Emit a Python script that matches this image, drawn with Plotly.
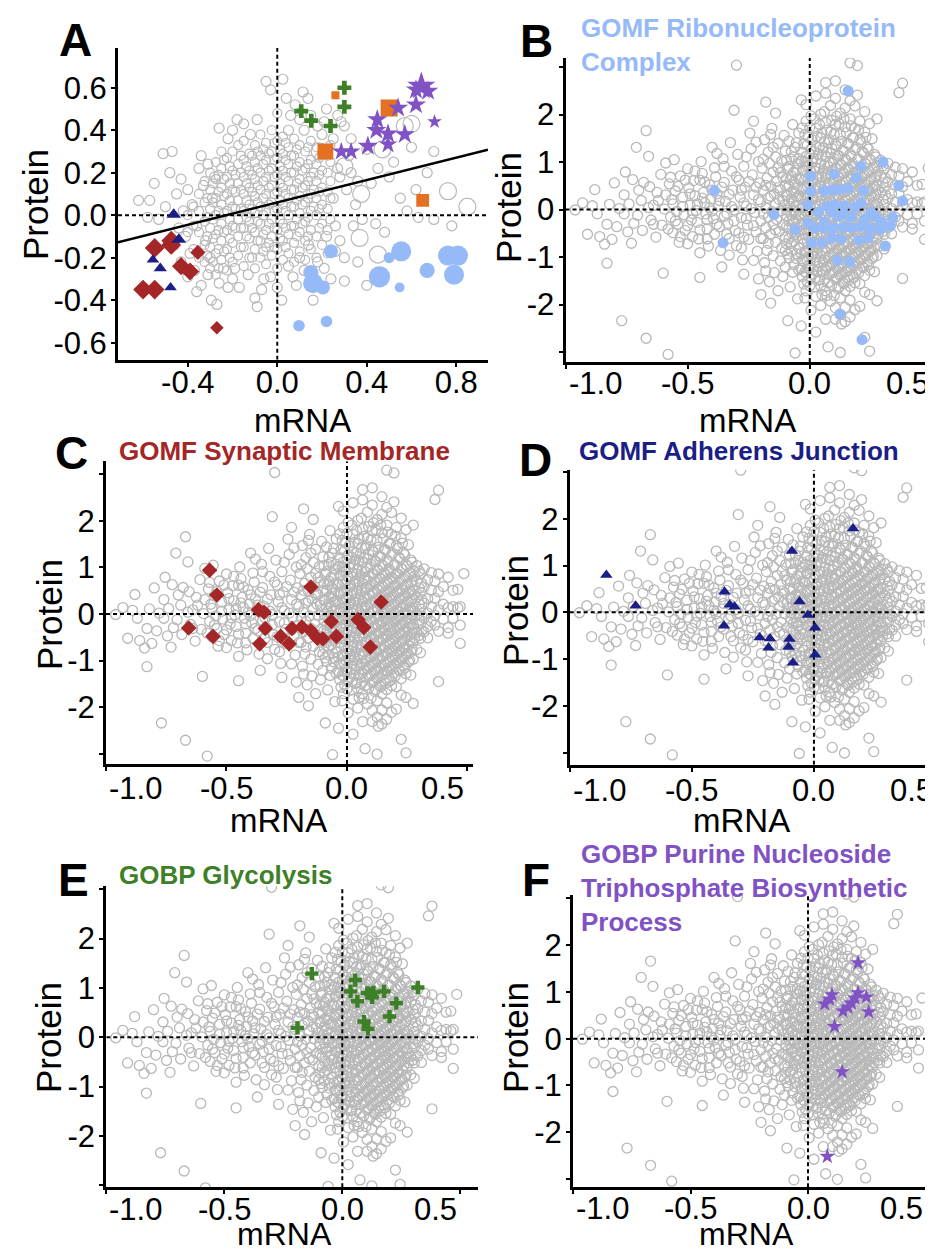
import plotly.graph_objects as go

W, H = 933, 1251
FONT = "Liberation Sans, Arial, sans-serif"

# ---------------------------------------------------------------- data
# Panel A background (mRNA, protein) - sparse genes
a_gray_pts = [
    (-0.62, 0.07), (-0.57, 0.07), (-0.55, 0.15), (-0.51, 0.29), (-0.47, 0.30), (-0.53, -0.02), (-0.50, 0.04),
    (-0.58, -0.01), (-0.45, 0.10), (-0.48, 0.20), (-0.43, 0.17), (-0.44, -0.06), (-0.41, -0.10), (-0.42, 0.02),
    (-0.40, 0.12), (-0.38, 0.05), (-0.39, -0.18), (-0.37, -0.26), (-0.40, -0.29), (-0.36, -0.05), (-0.35, 0.22),
    (-0.34, 0.28), (-0.31, 0.24), (-0.33, 0.14), (-0.32, -0.12), (-0.30, -0.20), (-0.34, -0.33), (-0.295, -0.40),
    (-0.27, -0.42), (-0.29, 0.08), (-0.28, 0.18), (-0.26, 0.41), (-0.22, -0.34), (-0.24, -0.25), (-0.20, -0.30),
    (-0.18, 0.45), (-0.15, 0.43), (-0.10, -0.39), (-0.09, -0.43), (-0.13, -0.28), (-0.06, -0.30), (-0.03, -0.29),
    (-0.05, 0.63), (-0.03, 0.59), (0.025, 0.64), (0.115, 0.58), (0.137, 0.55), (0.27, 0.47), (0.285, 0.44),
    (0.30, 0.42), (0.20, 0.38), (0.44, -0.04), (0.63, -0.01), (0.40, -0.33), (0.30, -0.31), (0.22, -0.10),
    (0.18, -0.22), (0.085, -0.33), (0.60, 0.32), (0.50, 0.18), (0.55, 0.08), (0.42, 0.15), (0.35, 0.05),
    (0.28, 0.18), (0.32, 0.28), (0.25, 0.08), (0.26, -0.05), (0.30, -0.20), (0.36, -0.22), (0.24, -0.30),
    (0.05, -0.24), (0.10, -0.20), (0.14, -0.14), (0.12, -0.26), (0.02, -0.40), (0.15, 0.47), (0.22, 0.50),
    (0.10, 0.45), (0.05, 0.40), (0.70, 0.30), (0.67, 0.20), (0.78, -0.05), (0.48, -0.08), (0.52, 0.25),
    (0.62, 0.12), (0.25, 0.36), (0.18, 0.42), (0.08, 0.52), (-0.12, 0.38), (-0.22, 0.36), (0.33, 0.36),
    (0.38, -0.02), (0.16, -0.40), (-0.17, -0.34), (-0.26, -0.32), (0.04, 0.55), (0.21, -0.25), (0.27, 0.22),
    (0.31, 0.12), (0.28, -0.12), (0.36, 0.16), (0.40, 0.31), (0.45, 0.22), (0.58, 0.02), (0.70, -0.02),
    (-0.46, -0.14), (-0.43, -0.22), (-0.36, -0.36), (-0.31, -0.28), (-0.19, -0.25), (-0.07, -0.35),
    (0.00, -0.34), (0.07, -0.29), (0.17, -0.31), (0.26, -0.17), (0.33, 0.20), (0.21, 0.44), (-0.09, 0.45),
    (0.06, 0.47), (-0.20, 0.40), (0.12, 0.40), (0.34, -0.05),
]
# Panel A background - large-effect genes (drawn as big circles)
a_gray_big_pts = [
    (0.375, 0.10), (0.45, -0.185), (0.368, -0.107), (0.57, 0.42), (0.60, 0.43), (0.763, 0.113),
    (0.85, 0.04), (0.47, 0.31), (0.30, 0.23), (0.19, 0.30),
]
# Panel A background - dense core, grouped by mRNA value
a_gray_core = {
    -0.40: [-0.08, 0.00],
    -0.375: [-0.16, -0.05, 0.04],
    -0.35: [-0.20, -0.08, 0.02, 0.10],
    -0.325: [-0.22, -0.14, -0.03, 0.06, 0.16],
    -0.3125: [-0.19, -0.10, -0.01, 0.08],
    -0.30: [-0.25, -0.15, -0.06, 0.03, 0.12, 0.20],
    -0.2875: [-0.22, -0.11, -0.02, 0.06, 0.15],
    -0.275: [-0.28, -0.18, -0.09, 0.00, 0.08, 0.17, 0.25],
    -0.2625: [-0.25, -0.16, -0.07, 0.02, 0.11, 0.19],
    -0.25: [-0.21, -0.12, -0.04, 0.05, 0.13, 0.22, 0.30],
    -0.2375: [-0.17, -0.08, 0.01, 0.09, 0.17, 0.26],
    -0.225: [-0.26, -0.16, -0.07, 0.02, 0.10, 0.18, 0.27],
    -0.2125: [-0.20, -0.11, -0.02, 0.07, 0.15, 0.23],
    -0.20: [-0.22, -0.13, -0.05, 0.04, 0.12, 0.21, 0.30],
    -0.1875: [-0.06, 0.03, 0.11, 0.19],
    -0.175: [-0.19, -0.10, -0.02, 0.07, 0.15, 0.24, 0.33],
    -0.1625: [-0.15, -0.06, 0.03, 0.12, 0.20, 0.28],
    -0.15: [-0.24, -0.15, -0.06, 0.02, 0.10, 0.18, 0.26, 0.35],
    -0.1375: [-0.10, -0.01, 0.07, 0.15, 0.23],
    -0.125: [-0.20, -0.11, -0.03, 0.05, 0.13, 0.21, 0.29],
    -0.1125: [-0.20, -0.06, 0.03, 0.11, 0.19, 0.28],
    -0.10: [-0.25, -0.16, -0.08, 0.01, 0.09, 0.17, 0.25, 0.33],
    -0.0875: [-0.12, -0.03, 0.06, 0.14, 0.22, 0.30],
    -0.075: [-0.20, -0.12, -0.04, 0.04, 0.12, 0.20, 0.28, 0.38],
    -0.0625: [-0.17, -0.09, 0.00, 0.08, 0.16, 0.24, 0.31],
    -0.05: [-0.23, -0.15, -0.07, 0.02, 0.10, 0.18, 0.26, 0.34],
    -0.0375: [-0.13, -0.04, 0.05, 0.13, 0.21, 0.29],
    -0.025: [-0.19, -0.10, -0.02, 0.06, 0.14, 0.22, 0.30, 0.40],
    -0.0125: [-0.15, -0.06, 0.02, 0.10, 0.18, 0.26, 0.34],
    0.0: [-0.25, -0.16, -0.07, 0.03, 0.11, 0.19, 0.27, 0.35, 0.48],
    0.0125: [-0.11, -0.02, 0.07, 0.15, 0.23, 0.31],
    0.025: [-0.21, -0.12, -0.04, 0.05, 0.13, 0.21, 0.29, 0.37],
    0.0375: [-0.15, -0.06, 0.02, 0.10, 0.18, 0.26, 0.34],
    0.05: [-0.18, -0.09, 0.00, 0.08, 0.16, 0.24, 0.32],
    0.0625: [-0.05, 0.04, 0.12, 0.20, 0.28],
    0.075: [-0.22, -0.13, -0.05, 0.04, 0.12, 0.20, 0.28, 0.36],
    0.0875: [-0.10, -0.02, 0.07, 0.15, 0.23, 0.31],
    0.10: [-0.17, -0.08, 0.01, 0.09, 0.17, 0.25, 0.33],
    0.1125: [-0.04, 0.05, 0.13, 0.21],
    0.125: [-0.21, -0.12, -0.03, 0.06, 0.14, 0.22, 0.30],
    0.1375: [-0.10, -0.01, 0.08, 0.16, 0.24, 0.32],
    0.15: [-0.16, -0.07, 0.02, 0.10, 0.18, 0.26, 0.35],
    0.1625: [0.04, 0.12, 0.20],
    0.175: [-0.20, -0.10, 0.00, 0.08, 0.16, 0.24, 0.32],
    0.1875: [-0.06, 0.03, 0.11, 0.19, 0.27],
    0.20: [-0.14, -0.04, 0.05, 0.13, 0.21, 0.29],
    0.225: [-0.18, -0.07, 0.03, 0.11, 0.20, 0.28],
    0.2375: [-0.02, 0.08, 0.16, 0.25, 0.33],
}

# Panel A highlighted categories (mRNA, protein, weight)
a_syn_x = [-0.60, -0.548, -0.548, -0.474, -0.474, -0.43, -0.39, -0.355, -0.27]
a_syn_y = [-0.35, -0.35, -0.154, -0.12, -0.14, -0.24, -0.265, -0.175, -0.53]
a_syn_w = [2.2, 2.2, 2.2, 2.2, 2.2, 2.0, 2.0, 1.6, 1.4]
a_adh_x = [-0.463, -0.44, -0.556, -0.523, -0.477]
a_adh_y = [0.003, -0.115, -0.21, -0.25, -0.34]
a_adh_w = [1.8, 1.8, 1.5, 1.6, 1.5]
a_orange_x = [0.26, 0.50, 0.215, 0.65]
a_orange_y = [0.565, 0.505, 0.30, 0.07]
a_orange_w = [1.0, 2.5, 2.3, 1.8]
a_gly_x = [0.30, 0.30, 0.107, 0.152, 0.238]
a_gly_y = [0.60, 0.51, 0.49, 0.445, 0.42]
a_gly_w = [1.6, 1.6, 1.6, 1.6, 1.6]
a_pur_x = [0.644, 0.62, 0.674, 0.54, 0.62, 0.447, 0.443, 0.495, 0.57, 0.495, 0.405, 0.33, 0.286, 0.703]
a_pur_y = [0.607, 0.59, 0.584, 0.505, 0.52, 0.45, 0.40, 0.383, 0.38, 0.333, 0.325, 0.30, 0.30, 0.44]
a_pur_w = [3.2, 2.2, 2.2, 2.2, 2.2, 2.2, 2.2, 2.2, 2.2, 2.0, 2.2, 2.0, 2.0, 1.5]
a_ribo_x = [0.24, 0.16, 0.15, 0.204, 0.457, 0.50, 0.554, 0.547, 0.67, 0.763, 0.808, 0.79, 0.097, 0.22]
a_ribo_y = [-0.17, -0.32, -0.27, -0.34, -0.29, -0.20, -0.17, -0.34, -0.26, -0.19, -0.19, -0.28, -0.52, -0.50]
a_ribo_w = [2.0, 3.0, 2.2, 2.0, 3.2, 1.5, 3.0, 1.3, 2.2, 3.0, 3.0, 3.0, 1.6, 1.6]
reg_slope = 0.263
reg_intercept = 0.06

# Panels B-F shared background (mRNA, protein) - sparse genes
bf_gray_pts = [
    (-0.96, -0.01), (-0.93, 0.14), (-0.91, -0.52), (-0.89, 0.08), (-0.87, -0.09), (-0.86, -0.57), (-0.84, -0.73),
    (-0.83, -1.13), (-0.82, 0.11), (-0.81, -0.63), (-0.80, 0.56), (-0.79, -0.36), (-0.78, 0.02), (-0.77, -2.34),
    (-0.76, 0.31), (-0.755, 0.79), (-0.745, -0.47), (-0.73, -0.71), (-0.725, 0.63), (-0.71, 1.31), (-0.705, -0.12),
    (-0.70, 0.41), (-0.69, 0.19), (-0.685, -0.44), (-0.67, 1.66), (-0.67, -2.71), (-0.66, 1.12), (-0.655, 0.48),
    (-0.65, -0.22), (-0.64, 0.09), (-0.63, -0.58), (-0.625, 0.36), (-0.61, 0.74), (-0.605, -0.33), (-0.60, -1.34),
    (-0.595, 0.01), (-0.59, 0.98), (-0.58, -3.05), (-0.575, 0.54), (-0.57, -0.16), (-0.565, 0.21), (-0.56, -0.49),
    (-0.555, 1.05), (-0.55, 0.39), (-0.545, -0.04), (-0.54, -0.31), (-0.535, -0.69), (-0.53, 0.71), (-0.52, 0.26),
    (-0.515, -0.11), (-0.51, -0.44), (-0.50, 0.86), (-0.495, 0.46), (-0.49, 0.09), (-0.485, -0.22), (-0.48, -0.57),
    (-0.475, 0.61), (-0.47, 0.29), (-0.465, -0.02), (-0.46, -0.27), (-0.455, -0.62), (-0.45, -0.91), (-0.45, -1.43),
    (-0.445, 1.01), (-0.44, 0.76), (-0.435, 0.36), (-0.43, 0.14), (-0.425, -0.09), (-0.42, -0.41), (-0.415, -0.77),
    (-0.41, 0.52), (-0.405, 0.22), (-0.40, 1.31), (-0.40, -0.03), (-0.395, -0.19), (-0.39, -0.52), (-0.385, 0.69),
    (-0.38, 0.33), (-0.375, 0.07), (-0.37, -0.36), (-0.365, -0.86), (-0.36, -1.21), (-0.355, 1.07), (-0.35, 0.57),
    (-0.345, 0.17), (-0.34, -0.08), (-0.335, -0.29), (-0.33, -0.61), (-0.325, 1.41), (-0.32, 0.81), (-0.315, 0.41),
    (-0.31, 2.09), (-0.31, -0.01), (-0.305, -0.44), (-0.30, 3.04), (-0.30, -0.76), (-0.295, 1.16), (-0.29, 0.62),
    (-0.285, 0.26), (-0.28, -0.17), (-0.275, -1.06), (-0.27, -1.36), (-0.27, 0.91), (-0.265, 0.47), (-0.26, 0.07),
    (-0.255, -0.33), (-0.25, -0.63), (-0.245, 1.61), (-0.24, 1.28), (-0.235, 0.73), (-0.23, 1.86), (-0.23, 0.31),
    (-0.225, -0.06), (-0.22, -0.47), (-0.215, -0.88), (-0.21, -1.46), (-0.21, 1.01), (-0.205, 0.56), (-0.20, 0.16),
    (-0.20, -0.24), (-0.20, -1.79),
    (-0.195, 0.87), (-0.19, 0.41), (-0.19, -0.61), (-0.185, 1.47), (-0.185, -1.12), (-0.18, 2.26), (-0.18, 0.03),
    (-0.18, -0.38), (-0.175, 0.66), (-0.175, -0.86), (-0.17, 1.21), (-0.17, 0.24), (-0.17, -0.16), (-0.165, -1.52),
    (-0.165, 0.97), (-0.16, 0.49), (-0.16, -0.52), (-0.16, -1.97), (-0.155, -0.04), (-0.155, 1.71), (-0.15, 0.79),
    (-0.15, -0.31), (-0.15, -0.97), (-0.145, 0.33), (-0.145, -1.33), (-0.14, 2.03), (-0.14, 1.11), (-0.14, 0.12),
    (-0.14, -0.69), (-0.135, 0.59), (-0.135, -0.21), (-0.13, -1.71), (-0.13, 1.39), (-0.13, 0.88), (-0.125, -0.46),
    (-0.125, 0.21), (-0.12, -1.08), (-0.12, 0.42), (-0.12, -0.03), (-0.115, 1.02), (-0.115, -0.81), (-0.11, 0.68),
    (-0.11, -0.33), (-0.11, -1.41), (-0.105, 1.56), (-0.105, 0.09), (-0.10, 1.23), (-0.10, 0.51), (-0.10, -0.58),
    (-0.10, -1.21), (-0.095, -0.13), (-0.095, 0.29), (-0.09, -2.34), (-0.09, 0.86), (-0.09, -0.94), (-0.085, 1.44),
    (-0.085, -0.39), (-0.08, 0.63), (-0.08, 0.06), (-0.08, -1.63), (-0.075, 1.06), (-0.075, -0.71), (-0.075, 0.37),
    (-0.07, -0.22), (-0.07, 1.79), (-0.07, -1.32), (-0.065, 0.79), (-0.065, 0.17), (-0.06, -3.02), (-0.06, -0.52),
    (-0.06, 1.31), (-0.06, 0.53), (-0.055, -0.06), (-0.055, -1.03), (-0.05, 0.96), (-0.05, 0.27), (-0.05, -0.36),
    (-0.05, -1.88), (-0.045, 1.61), (-0.045, 0.66), (-0.045, -0.81),
    (-0.59, 0.31), (-0.58, -0.41), (-0.57, 0.68), (-0.56, 0.12), (-0.55, -0.24), (-0.54, 0.49), (-0.53, -0.57),
    (-0.52, 0.06), (-0.51, 0.62), (-0.50, -0.34), (-0.49, 0.33), (-0.48, -0.08), (-0.47, 0.81), (-0.46, 0.12),
    (-0.45, -0.43), (-0.44, 0.24), (-0.43, 0.58), (-0.42, -0.21), (-0.41, 0.04), (-0.40, 0.41), (-0.39, 0.88),
    (-0.38, -0.31), (-0.37, 0.19), (-0.36, 0.47), (-0.35, -0.14), (-0.34, -0.52), (-0.33, 0.32), (-0.32, 0.06),
    (-0.31, -0.24), (-0.30, 0.69), (-0.29, -0.49), (-0.28, 0.41), (-0.27, 0.14), (-0.26, -0.19), (-0.25, 0.59),
    (-0.24, 0.02), (-0.23, -0.34), (-0.22, 0.47), (-0.21, 0.21), (-0.20, -0.61), (-0.19, 1.06), (-0.19, -0.09),
    (-0.18, 0.51), (-0.17, -0.71), (-0.16, 0.28), (-0.15, 1.31), (-0.14, -0.43), (-0.13, 0.46), (-0.12, 0.78),
    (-0.11, 0.19), (-0.10, -0.86), (-0.62, 0.19), (-0.64, -0.31), (-0.66, 0.04), (-0.68, 0.57), (-0.72, -0.29),
    (-0.74, 0.12), (-0.76, -0.09), (-0.83, -0.31), (-0.88, 0.42), (-0.35, 0.91), (-0.28, -0.81), (-0.23, -1.07),
    (-0.26, 1.11), (-0.33, -0.96), (-0.42, -0.62), (-0.50, -0.72), (-0.38, 1.18), (-0.45, 0.62), (-0.22, 1.42),
    (-0.18, -1.29), (-0.16, 1.58), (-0.27, -0.58),
]
# Panels B-F shared background - dense core, grouped by mRNA value
bf_gray_core = {
    -0.095: [1.04, 0.66, 0.31, -0.01, -0.36, -0.72],
    -0.085: [0.91, 0.49, 0.14, -0.24, -0.61, -1.02],
    -0.075: [1.22, 0.71, 0.22, -0.12, -0.49, -0.88],
    -0.065: [1.11, 0.58, 0.36, -0.04, -0.29, -0.67, -1.16],
    -0.055: [1.41, 0.83, 0.44, 0.09, -0.21, -0.58, -0.93],
    -0.045: [1.07, 0.29, -0.12, -0.46, -1.27],
    -0.035: [2.31, 1.02, 0.63, 0.22, -0.12, -0.44, -0.93, -1.24, -2.45],
    -0.03: [1.72, 1.21, 0.83, 0.42, 0.04, -0.28, -0.61, -1.07, -1.41],
    -0.025: [1.38, 0.84, 0.47, 0.05, -0.29, -0.72, -1.09, -1.57],
    -0.02: [1.58, 1.01, 0.64, 0.26, -0.12, -0.51, -0.89, -1.31, -1.86],
    -0.015: [2.21, 1.86, 1.12, 0.71, 0.31, -0.04, -0.41, -0.86, -1.33, -1.71],
    -0.01: [1.36, 0.91, 0.49, 0.13, -0.22, -0.67, -1.07, -1.52],
    -0.005: [1.52, 0.93, 0.54, 0.16, -0.21, -0.58, -0.99, -1.18],
    0.0: [1.73, 1.16, 0.72, 0.33, -0.04, -0.43, -0.84, -1.24, -1.61],
    0.005: [1.97, 1.27, 0.79, 0.39, 0.01, -0.34, -0.76, -1.42, -2.12],
    0.01: [1.47, 0.99, 0.58, 0.21, -0.16, -0.57, -0.95, -1.36],
    0.015: [1.08, 0.62, 0.24, -0.13, -0.49, -0.91, -1.27],
    0.02: [1.91, 1.22, 0.81, 0.41, 0.03, -0.37, -0.79, -1.19, -1.63],
    0.025: [2.39, 1.71, 1.33, 0.88, 0.47, 0.09, -0.27, -0.66, -1.06, -1.83, -2.58],
    0.03: [1.54, 1.06, 0.65, 0.27, -0.11, -0.51, -0.92, -1.31],
    0.035: [1.17, 0.71, 0.32, -0.06, -0.41, -0.81, -1.19, -1.49],
    0.04: [1.79, 1.31, 0.86, 0.44, 0.06, -0.31, -0.71, -1.11, -1.47],
    0.045: [2.01, 1.51, 0.97, 0.56, 0.18, -0.19, -0.56, -0.97, -1.61, -2.02],
    0.05: [1.61, 1.14, 0.69, 0.31, -0.08, -0.47, -0.86, -1.29, -1.79],
    0.055: [1.29, 0.81, 0.42, 0.03, -0.33, -0.71, -1.11, -1.37],
    0.06: [2.06, 1.43, 0.93, 0.51, 0.12, -0.27, -0.66, -1.06, -1.49],
    0.065: [2.67, 2.45, 1.83, 1.11, 0.66, 0.27, -0.11, -0.47, -0.87, -1.26, -1.71, -2.31],
    0.07: [1.67, 1.21, 0.76, 0.36, -0.03, -0.42, -0.81, -1.21, -1.81],
    0.075: [1.41, 0.91, 0.52, 0.13, -0.24, -0.62, -1.01, -1.54, -2.89],
    0.08: [1.47, 0.99, 0.57, 0.18, -0.19, -0.59, -0.98, -1.37],
    0.085: [2.19, 1.63, 1.19, 0.73, 0.34, -0.03, -0.39, -0.78, -1.17, -1.93],
    0.09: [1.88, 1.29, 0.81, 0.41, 0.02, -0.35, -0.74, -1.13, -1.59],
    0.095: [1.02, 0.59, 0.21, -0.16, -0.53, -0.93, -1.32],
    0.10: [1.59, 1.07, 0.63, 0.24, -0.14, -0.53, -0.91, -1.29, -1.81],
    0.105: [2.71, 2.34, 1.79, 1.37, 0.86, 0.44, 0.06, -0.31, -0.69, -1.08, -1.47, -2.07, -2.31],
    0.11: [1.96, 1.33, 0.87, 0.46, 0.07, -0.29, -0.67, -1.06, -1.44],
    0.115: [1.13, 0.68, 0.29, -0.09, -0.46, -0.84, -1.23, -1.66],
    0.12: [1.81, 1.13, 0.69, 0.29, -0.07, -0.44, -0.82, -1.21, -1.62],
    0.125: [2.03, 1.58, 0.96, 0.53, 0.14, -0.23, -0.61, -0.99, -1.39, -1.86, -2.21, -3.01],
    0.13: [1.43, 0.93, 0.52, 0.12, -0.24, -0.59, -0.97, -1.37, -2.41],
    0.135: [1.24, 0.77, 0.37, -0.02, -0.38, -0.76, -1.16, -1.53],
    0.14: [1.91, 1.23, 0.76, 0.36, -0.04, -0.38, -0.74, -1.14, -1.56],
    0.145: [2.52, 2.14, 1.74, 1.06, 0.61, 0.22, -0.15, -0.53, -0.91, -1.31, -1.71, -2.06, -2.36],
    0.15: [1.62, 1.03, 0.58, 0.19, -0.17, -0.53, -0.91, -1.29],
    0.155: [1.39, 0.88, 0.46, 0.07, -0.29, -0.68, -1.07, -1.43],
    0.16: [1.38, 0.83, 0.42, 0.03, -0.34, -0.71, -1.07, -1.49],
    0.165: [3.09, 2.29, 1.91, 1.17, 0.71, 0.31, -0.07, -0.44, -0.83, -1.21, -1.62, -1.91, -2.26],
    0.17: [1.76, 1.12, 0.66, 0.27, -0.11, -0.47, -0.84, -1.23],
    0.175: [1.51, 0.97, 0.54, 0.16, -0.21, -0.59, -0.97, -1.37],
    0.18: [1.52, 0.91, 0.49, 0.11, -0.27, -0.63, -1.01, -1.43],
    0.185: [2.18, 1.71, 1.26, 0.79, 0.39, 0.01, -0.36, -0.74, -1.12, -1.54, -2.11],
    0.19: [1.31, 0.76, 0.36, -0.03, -0.41, -0.79, -1.17],
    0.195: [3.03, 2.41, 1.05, 0.61, 0.23, -0.14, -0.51, -0.89, -1.27],
    0.20: [1.68, 1.06, 0.61, 0.21, -0.17, -0.54, -0.92, -1.33],
    0.205: [1.86, 1.47, 0.86, 0.47, 0.08, -0.28, -0.66, -1.04, -1.56, -2.04],
    0.21: [1.41, 0.87, 0.46, 0.07, -0.31, -0.69, -1.06],
    0.215: [1.22, 0.69, 0.31, -0.06, -0.43, -0.81, -1.19],
    0.22: [1.18, 0.73, 0.33, -0.06, -0.43, -0.81, -1.22],
    0.225: [2.06, 1.63, 0.98, 0.54, 0.16, -0.21, -0.58, -0.96, -1.39, -1.74, -2.69],
    0.23: [1.52, 0.96, 0.52, 0.14, -0.23, -0.59, -0.97],
    0.235: [1.31, 0.77, 0.38, 0.01, -0.36, -0.73, -1.11],
    0.24: [1.27, 0.81, 0.39, 0.02, -0.37, -0.72, -1.16],
    0.245: [1.81, 1.06, 0.61, 0.22, -0.14, -0.51, -0.88, -1.28, -1.79, -2.98],
    0.25: [1.03, 0.63, 0.27, -0.11, -0.48, -0.86],
    0.255: [1.49, 0.84, 0.44, 0.07, -0.29, -0.66, -1.03],
    0.26: [0.88, 0.49, 0.14, -0.21, -0.58, -0.99],
    0.265: [1.16, 0.67, 0.29, -0.08, -0.44, -0.81, -1.31],
    0.27: [1.11, 0.71, 0.33, -0.03, -0.39, -0.76],
    0.275: [1.91, 0.93, 0.51, 0.13, -0.23, -0.61, -0.97, -1.92],
    0.28: [0.81, 0.42, 0.06, -0.31, -0.52],
    0.29: [1.04, 0.71, 0.36, -0.02, -0.39, -0.76],
    0.30: [0.92, 0.56, 0.21, -0.13, -0.46],
    0.305: [0.86, 0.47, 0.11, -0.21, -0.52, -0.83],
    0.31: [0.66, 0.31, -0.04, -0.36],
    0.32: [0.97, 0.58, 0.23, -0.09, -0.38],
    0.335: [0.74, 0.33, 0.02, -0.27, -0.51],
    0.35: [0.89, 0.51, 0.16, -0.16],
    0.365: [2.46, 0.71, 0.34, -0.03, -0.24],
    0.38: [2.66, 0.86, 0.48, 0.09, -0.37, -1.45],
    0.40: [0.59, 0.21, -0.11],
    0.42: [0.79, 0.14, -0.29, -0.41],
    0.44: [0.51, 0.16, -0.09],
    0.46: [0.53, 0.13],
    0.47: [0.16, -0.24, -0.63],
    0.485: [0.87],
}

# Panel B: GOMF Ribonucleoprotein Complex
ribo_x = [0.157, 0.30, 0.21, 0.10, 0.004, 0.19, 0.364, 0.004, 0.06, 0.09, 0.12, 0.157, 0.22, -0.39, 0.38,
          -0.007, 0.07, 0.10, 0.14, 0.21, -0.146, 0.09, 0.14, 0.115, 0.34, 0.29, 0.225, -0.007, -0.06, 0.02,
          0.06, 0.10, 0.14, 0.17, 0.21, 0.25, 0.33, 0.29, 0.09, 0.13, 0.20, 0.24, 0.007, 0.05, -0.355, 0.31,
          0.113, 0.164, 0.123, 0.214, 0.035, 0.185, 0.25, 0.27, 0.06, 0.17]
ribo_y = [2.5, 1.0, 0.91, 0.75, 0.70, 0.67, 0.505, 0.386, 0.39, 0.41, 0.42, 0.45, 0.40, 0.40, 0.18,
          0.10, 0.07, 0.10, 0.08, 0.14, -0.105, -0.05, -0.10, -0.14, -0.17, -0.25, -0.21, -0.28, -0.42, -0.39,
          -0.39, -0.39, -0.36, -0.38, -0.36, -0.40, -0.35, -0.42, -0.60, -0.62, -0.64, -0.60, -0.70, -0.70, -0.70, -0.77,
          -1.07, -1.10, -2.2, -2.74, -0.05, 0.05, -0.05, -0.15, -0.26, -0.15]
# Panel C: GOMF Synaptic Membrane
syn_x = [-0.57, -0.54, -0.657, -0.556, -0.367, -0.344, -0.339, -0.362, -0.275, -0.24, -0.228, -0.187, -0.15,
         -0.15, -0.123, -0.10, -0.065, -0.044, 0.046, 0.07, 0.097, 0.142]
syn_y = [0.94, 0.41, -0.30, -0.48, 0.09, 0.04, -0.31, -0.64, -0.48, -0.64, -0.31, -0.28, 0.58,
         -0.36, -0.52, -0.53, -0.16, -0.48, -0.12, -0.29, -0.71, 0.26]
# Panel D: GOMF Adherens Junction
adh_x = [-0.85, -0.73, -0.366, -0.345, -0.325, -0.368, -0.222, -0.18, -0.186, -0.09, 0.16, -0.059, -0.025,
         0.005, -0.10, -0.104, -0.086, 0.005]
adh_y = [0.80, 0.14, 0.44, 0.16, 0.12, -0.29, -0.54, -0.56, -0.76, 1.31, 1.79, 0.23, -0.06,
         -0.33, -0.57, -0.74, -1.08, -0.91]
# Panel E: GOBP Glycolysis
gly_x = [-0.129, -0.19, 0.055, 0.035, 0.064, 0.106, 0.12, 0.132, 0.127, 0.177, 0.32, 0.229, 0.20, 0.092, 0.109]
gly_y = [1.29, 0.19, 1.16, 0.93, 0.73, 0.90, 0.88, 0.91, 0.81, 0.93, 1.01, 0.69, 0.42, 0.32, 0.17]
# Panel F: GOBP Purine Nucleoside Triphosphate Biosynthetic Process
pur_x = [0.213, 0.071, 0.102, 0.092, 0.213, 0.20, 0.185, 0.17, 0.149, 0.248, 0.258, 0.113, 0.145, 0.082]
pur_y = [1.62, 0.74, 0.94, 0.84, 0.98, 0.87, 0.76, 0.67, 0.59, 0.89, 0.57, 0.26, -0.71, -2.52]

# axis ticks
a_xticks = [-0.4, 0.0, 0.4, 0.8]
a_xticktext = ["-0.4", "0.0", "0.4", "0.8"]
a_yticks = [-0.6, -0.4, -0.2, 0.0, 0.2, 0.4, 0.6]
a_yticktext = ["-0.6", "-0.4", "-0.2", "0.0", "0.2", "0.4", "0.6"]
bf_xticks = [-1.0, -0.5, 0.0, 0.5]
bf_xticktext = ["-1.0", "-0.5", "0.0", "0.5"]
bf_yticks = [-3, -2, -1, 0, 1, 2, 3]
bf_yticktext = ["", "-2", "-1", "0", "1", "2", ""]

# ---------------------------------------------------------------- styles
GRAY = "rgb(184,184,184)"
C_RIBO = "rgb(150,186,248)"
C_SYN = "rgb(165,38,38)"
C_ADH = "rgb(28,30,135)"
C_GLY = "rgb(62,128,40)"
C_PUR = "rgb(128,82,196)"
C_ORANGE = "rgb(228,112,34)"

# panel boxes in pixels: left, right, top, bottom, x-range, y-range, tick-label centre line
panels = {
    "A": dict(l=110, r=480, t=40, b=351.7, xr=[-0.712, 0.942], yr=[-0.68, 0.787], lab=377),
    "B": dict(l=557.5, r=930, t=50, b=354, xr=[-1.0, 0.525], yr=[-3.21, 3.19], lab=375),
    "C": dict(l=98, r=465, t=453.3, b=756, xr=[-1.0, 0.523], yr=[-3.22, 3.28], lab=780),
    "D": dict(l=561.7, r=930, t=461.7, b=756.7, xr=[-1.0, 0.508], yr=[-3.26, 3.05], lab=782),
    "E": dict(l=98.3, r=470, t=878.3, b=1179.3, xr=[-1.0, 0.575], yr=[-3.04, 3.06], lab=1201),
    "F": dict(l=565, r=930, t=886.7, b=1179.3, xr=[-1.0, 0.553], yr=[-3.18, 3.08], lab=1200),
}
order = ["A", "B", "C", "D", "E", "F"]

fig = go.Figure()
layout = dict(width=W, height=H, margin=dict(l=0, r=0, t=0, b=0),
              paper_bgcolor="white", plot_bgcolor="white", showlegend=False,
              font=dict(family=FONT, color="black"))

TICKFONT = dict(size=31, family=FONT, color="black")
ann = []


def text(px, py, s, size, color="black", bold=False, xanchor="center", yanchor="middle", angle=0, align="center"):
    ann.append(dict(xref="paper", yref="paper", x=px / W, y=1 - py / H, text=("<b>%s</b>" % s) if bold else s,
                    showarrow=False, xanchor=xanchor, yanchor=yanchor, textangle=angle, align=align,
                    borderpad=0, font=dict(size=size, color=color, family=FONT)))


for i, key in enumerate(order):
    p = panels[key]
    sfx = "" if i == 0 else str(i + 1)
    common = dict(showline=True, linecolor="black", linewidth=3, ticks="outside", ticklen=4,
                  tickwidth=2, tickcolor="black", showgrid=False, zeroline=False, tickfont=TICKFONT)
    xa = dict(domain=[p["l"] / W, p["r"] / W], range=p["xr"], anchor="y" + sfx,
              ticklabelstandoff=-11, **common)
    ya = dict(domain=[1 - p["b"] / H, 1 - p["t"] / H], range=p["yr"], anchor="x" + sfx,
              ticklabelstandoff=-2, **common)
    if key == "A":
        xa.update(tickvals=a_xticks, ticktext=a_xticktext)
        ya.update(tickvals=a_yticks, ticktext=a_yticktext)
    else:
        # x tick labels of B-F: first one flush-left with the axis start, last one flush-right with its tick
        xa.update(tickvals=bf_xticks, showticklabels=False)
        ya.update(tickvals=bf_yticks, ticktext=bf_yticktext)
        n = len(bf_xticks)
        for j, (v, t) in enumerate(zip(bf_xticks, bf_xticktext)):
            anchor = "left" if j == 0 else ("right" if j == n - 1 else "center")
            shift = 2 if j == 0 else (-2 if j == n - 1 else 0)
            ann.append(dict(xref="x" + sfx, yref="paper", x=v, y=1 - p["lab"] / H, text=t,
                            showarrow=False, xanchor=anchor, yanchor="middle", xshift=shift,
                            borderpad=0, font=TICKFONT))
    layout["xaxis" + sfx] = xa
    layout["yaxis" + sfx] = ya


def add(key, **kw):
    i = order.index(key)
    sfx = "" if i == 0 else str(i + 1)
    fig.add_trace(go.Scatter(xaxis="x" + sfx, yaxis="y" + sfx, hoverinfo="skip", **kw))


def gray_open(size, width):
    return dict(symbol="circle-open", color=GRAY, size=size, opacity=1, line=dict(color=GRAY, width=width))


def solid(symbol, color, size):
    return dict(symbol=symbol, color=color, size=size, opacity=1, line=dict(width=0))


def zero_lines(key):
    p = panels[key]
    dash_line = dict(color="black", width=2, dash="4px,3px")
    add(key, x=p["xr"], y=[0, 0], mode="lines", line=dash_line)
    add(key, x=[0, 0], y=p["yr"], mode="lines", line=dash_line)


def sz(weights, base, k):
    return [base + k * w for w in weights]


# ---- Panel A
core_x = [x for x, ys in a_gray_core.items() for _ in ys]
core_y = [y for ys in a_gray_core.values() for y in ys]
add("A", x=core_x, y=core_y, mode="markers", marker=gray_open(9, 1.2))
add("A", x=[q[0] for q in a_gray_pts], y=[q[1] for q in a_gray_pts], mode="markers", marker=gray_open(10, 1.2))
add("A", x=[q[0] for q in a_gray_big_pts], y=[q[1] for q in a_gray_big_pts], mode="markers",
    marker=gray_open(17, 1.2))
zero_lines("A")
xr = panels["A"]["xr"]
add("A", x=xr, y=[reg_intercept + reg_slope * v for v in xr], mode="lines", line=dict(color="black", width=2.5))
add("A", x=a_syn_x, y=a_syn_y, mode="markers", marker=solid("diamond", C_SYN, sz(a_syn_w, 2, 6)))
add("A", x=a_adh_x, y=a_adh_y, mode="markers", marker=solid("triangle-up", C_ADH, sz(a_adh_w, 2, 6)))
add("A", x=a_orange_x, y=a_orange_y, mode="markers", marker=solid("square", C_ORANGE, sz(a_orange_w, 2, 6)))
add("A", x=a_gly_x, y=a_gly_y, mode="markers", marker=solid("cross", C_GLY, sz(a_gly_w, 2, 6)))
add("A", x=a_pur_x, y=a_pur_y, mode="markers", marker=solid("star", C_PUR, sz(a_pur_w, 2, 6)))
add("A", x=a_ribo_x, y=a_ribo_y, mode="markers", marker=solid("circle", C_RIBO, sz(a_ribo_w, 2, 6)))

# ---- Panels B-F
bcore_x = [x for x, ys in bf_gray_core.items() for _ in ys]
bcore_y = [y for ys in bf_gray_core.values() for y in ys]
sp_x = [q[0] for q in bf_gray_pts]
sp_y = [q[1] for q in bf_gray_pts]
highlight = {
    "B": (ribo_x, ribo_y, "circle", C_RIBO, 11),
    "C": (syn_x, syn_y, "diamond", C_SYN, 12),
    "D": (adh_x, adh_y, "triangle-up", C_ADH, 11),
    "E": (gly_x, gly_y, "cross", C_GLY, 11),
    "F": (pur_x, pur_y, "star", C_PUR, 12),
}
for key in ["B", "C", "D", "E", "F"]:
    add(key, x=sp_x + bcore_x, y=sp_y + bcore_y, mode="markers", marker=gray_open(10, 1.3))
    zero_lines(key)
    hx, hy, sym, col, s = highlight[key]
    add(key, x=hx, y=hy, mode="markers", marker=solid(sym, col, s))

# ---------------------------------------------------------------- text
for key, (px, py) in {"A": (67, 32), "B": (528, 33), "C": (63, 445), "D": (527, 452),
                      "E": (65, 872), "F": (528, 872)}.items():
    text(px, py, key, 46, bold=True)

for px, py in [(27, 197), (500, 200), (42, 607), (507, 603), (40, 1030), (507, 1030)]:
    text(px, py, "Protein", 35, angle=-90)
for px, py in [(294, 412), (739, 412), (270, 812), (733, 812)]:
    text(px, py, "mRNA", 33)
for px, py in [(276, 1226), (738, 1226)]:
    text(px, py, "mRNA", 32)

text(572, 4, "GOMF Ribonucleoprotein<br>Complex", 26, C_RIBO, True, "left", "top", align="left")
text(110, 443, "GOMF Synaptic Membrane", 26, C_SYN, True, "left", "middle")
text(570, 443, "GOMF Adherens Junction", 26, C_ADH, True, "left", "middle")
text(110, 867, "GOBP Glycolysis", 26, C_GLY, True, "left", "middle")
text(572, 830, "GOBP Purine Nucleoside<br>Triphosphate Biosynthetic<br>Process", 26, C_PUR, True,
     "left", "top", align="left")

layout["annotations"] = ann
fig.update_layout(**layout)
fig.write_html("out.html")
